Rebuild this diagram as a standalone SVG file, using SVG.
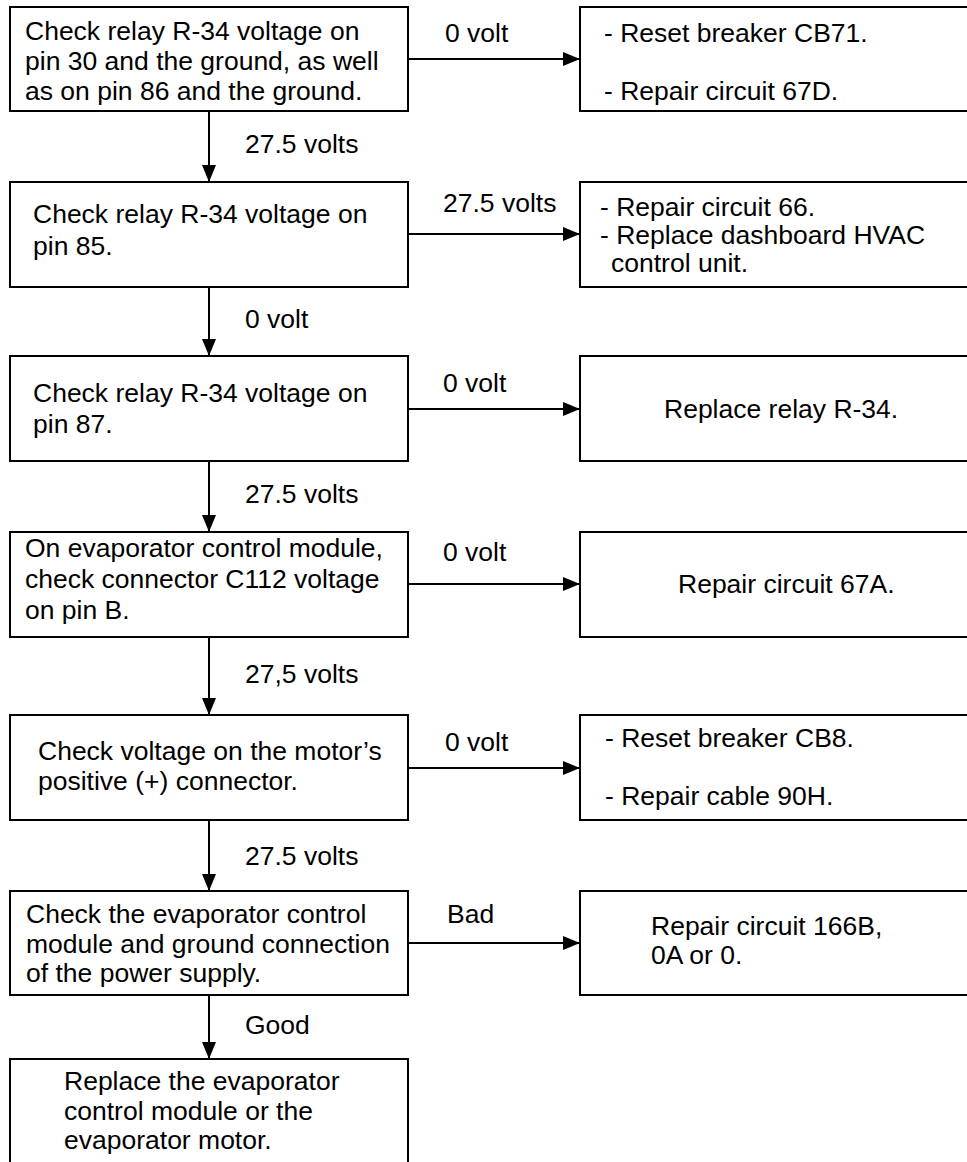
<svg xmlns="http://www.w3.org/2000/svg" width="967" height="1162" viewBox="0 0 967 1162">
<style>
.box{fill:#fff;stroke:#000;stroke-width:2}
.t{font-family:"Liberation Sans",Arial,Helvetica,sans-serif;font-size:26.5px;fill:#000}
.c{stroke:#000;stroke-width:2;fill:none;marker-end:url(#ah)}
</style>
<defs>
<marker id="ah" viewBox="0 0 17 14" refX="17" refY="7" markerWidth="17" markerHeight="14" markerUnits="userSpaceOnUse" orient="auto">
<path d="M0,0 L17,7 L0,14 z" fill="#000"/>
</marker>
</defs>
<rect width="967" height="1162" fill="#fff"/>
<g id="connectors">
<path class="c" d="M209,111 V182"/>
<path class="c" d="M209,287 V356"/>
<path class="c" d="M209,461 V532"/>
<path class="c" d="M209,637 V715"/>
<path class="c" d="M209,820 V891"/>
<path class="c" d="M209,995 V1059"/>
<path class="c" d="M408,59 H580"/>
<path class="c" d="M408,234 H580"/>
<path class="c" d="M408,409 H580"/>
<path class="c" d="M408,584 H580"/>
<path class="c" d="M408,768 H580"/>
<path class="c" d="M408,943 H580"/>
<text class="t" x="245" y="153">27.5 volts</text>
<text class="t" x="245" y="328">0 volt</text>
<text class="t" x="245" y="503">27.5 volts</text>
<text class="t" x="245" y="683">27,5 volts</text>
<text class="t" x="245" y="865">27.5 volts</text>
<text class="t" x="245" y="1034">Good</text>
<text class="t" x="445" y="42">0 volt</text>
<text class="t" x="443" y="212">27.5 volts</text>
<text class="t" x="443" y="392">0 volt</text>
<text class="t" x="443" y="561">0 volt</text>
<text class="t" x="445" y="751">0 volt</text>
<text class="t" x="447" y="923">Bad</text>
</g>
<g id="n1">
<rect class="box" x="10" y="7" width="398" height="104"/>
<text class="t" x="25" y="40">Check relay R-34 voltage on</text>
<text class="t" x="25" y="70">pin 30 and the ground, as well</text>
<text class="t" x="25" y="100">as on pin 86 and the ground.</text>
</g>
<g id="r1">
<rect class="box" x="580" y="7" width="410" height="104"/>
<text class="t" x="604" y="42">- Reset breaker CB71.</text>
<text class="t" x="604" y="100">- Repair circuit 67D.</text>
</g>
<g id="n2">
<rect class="box" x="10" y="182" width="398" height="105"/>
<text class="t" x="33" y="223">Check relay R-34 voltage on</text>
<text class="t" x="33" y="255">pin 85.</text>
</g>
<g id="r2">
<rect class="box" x="580" y="182" width="410" height="105"/>
<text class="t" x="600" y="216">- Repair circuit 66.</text>
<text class="t" x="600" y="244">- Replace dashboard HVAC</text>
<text class="t" x="611" y="272">control unit.</text>
</g>
<g id="n3">
<rect class="box" x="10" y="356" width="398" height="105"/>
<text class="t" x="33" y="402">Check relay R-34 voltage on</text>
<text class="t" x="33" y="433">pin 87.</text>
</g>
<g id="r3">
<rect class="box" x="580" y="356" width="410" height="105"/>
<text class="t" x="664" y="418">Replace relay R-34.</text>
</g>
<g id="n4">
<rect class="box" x="10" y="532" width="398" height="105"/>
<text class="t" x="25" y="557">On evaporator control module,</text>
<text class="t" x="25" y="588">check connector C112 voltage</text>
<text class="t" x="25" y="619">on pin B.</text>
</g>
<g id="r4">
<rect class="box" x="580" y="532" width="410" height="105"/>
<text class="t" x="678" y="593">Repair circuit 67A.</text>
</g>
<g id="n5">
<rect class="box" x="10" y="715" width="398" height="105"/>
<text class="t" x="38" y="760">Check voltage on the motor’s</text>
<text class="t" x="38" y="790">positive (+) connector.</text>
</g>
<g id="r5">
<rect class="box" x="580" y="715" width="410" height="105"/>
<text class="t" x="605" y="747">- Reset breaker CB8.</text>
<text class="t" x="605" y="805">- Repair cable 90H.</text>
</g>
<g id="n6">
<rect class="box" x="10" y="891" width="398" height="104"/>
<text class="t" x="26" y="923">Check the evaporator control</text>
<text class="t" x="26" y="953">module and ground connection</text>
<text class="t" x="26" y="982">of the power supply.</text>
</g>
<g id="r6">
<rect class="box" x="580" y="891" width="410" height="104"/>
<text class="t" x="651" y="935">Repair circuit 166B,</text>
<text class="t" x="651" y="964">0A or 0.</text>
</g>
<g id="n7">
<rect class="box" x="10" y="1059" width="398" height="120"/>
<text class="t" x="64" y="1090">Replace the evaporator</text>
<text class="t" x="64" y="1120">control module or the</text>
<text class="t" x="64" y="1149">evaporator motor.</text>
</g>
</svg>
